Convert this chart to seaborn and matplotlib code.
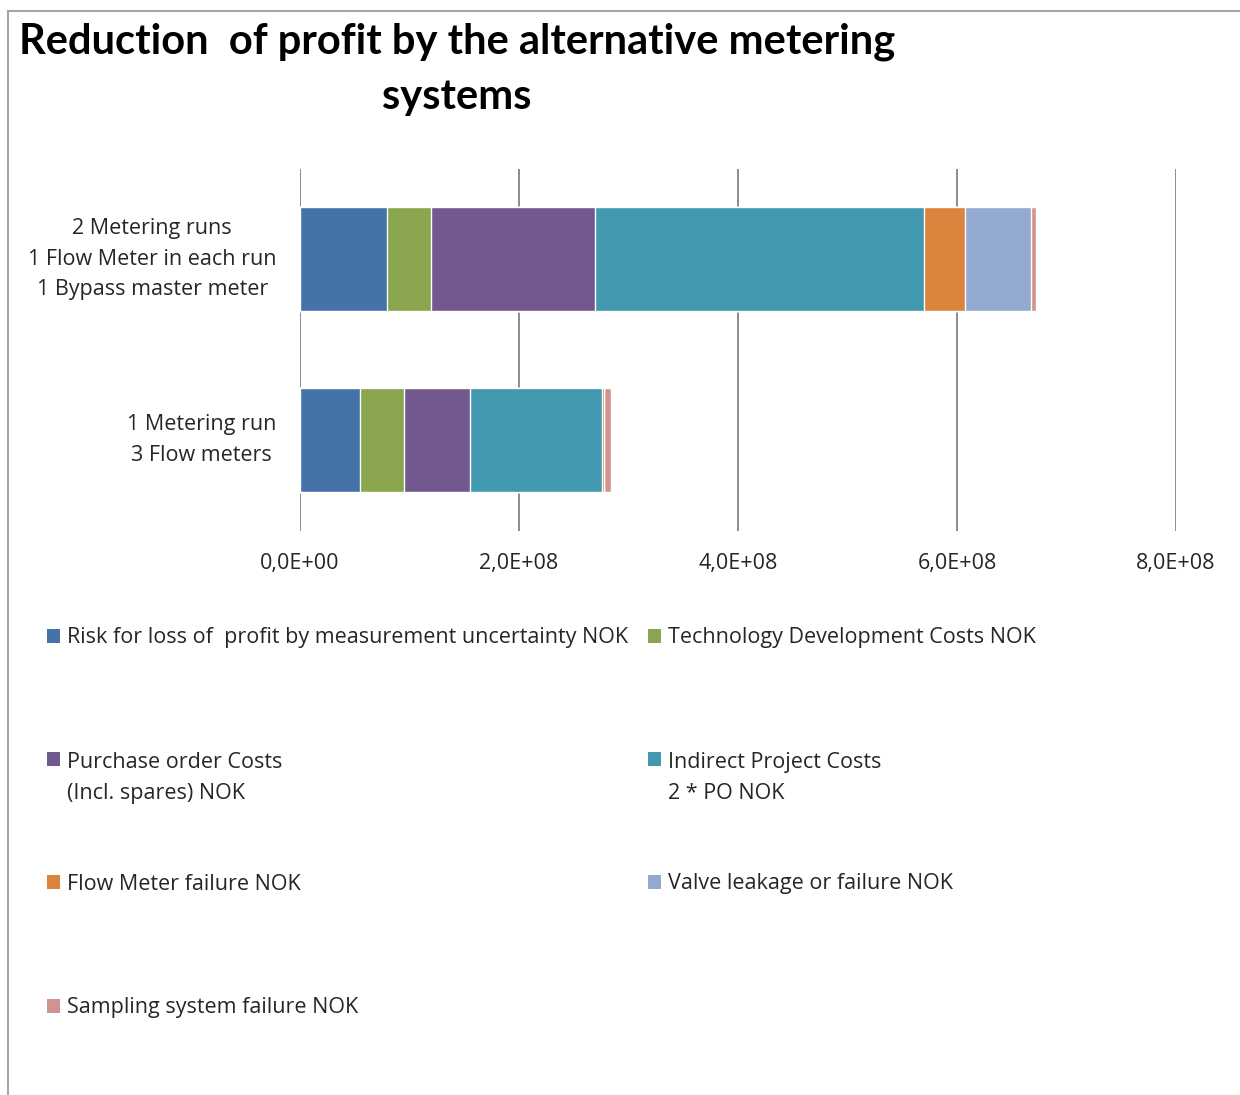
import matplotlib
matplotlib.use("Agg")
import matplotlib.pyplot as plt
from matplotlib.patches import Patch, Rectangle
from matplotlib.ticker import FuncFormatter, FixedLocator
import numpy as np
import pandas as pd
import seaborn as sns

# Metering system alternatives (category axis, top to bottom)
systems = [
    "2 Metering runs\n1 Flow Meter in each run\n1 Bypass master meter",
    "1 Metering run\n3 Flow meters",
]

# Cost components stacked in each bar
series = [
    "Risk for loss of  profit by measurement uncertainty NOK",
    "Technology Development Costs NOK",
    "Purchase order Costs\n(Incl. spares) NOK",
    "Indirect Project Costs\n2 * PO NOK",
    "Flow Meter failure NOK",
    "Valve leakage or failure NOK",
    "Sampling system failure NOK",
]

# Values in NOK for each system
risk = [79.5e6, 54.8e6]
tech = [40.2e6, 40.2e6]
purchase = [150.1e6, 60.3e6]
indirect = [300.2e6, 120.6e6]
flow_fail = [37.4e6, 1.8e6]
valve = [60.6e6, 0.0]
sampling = [4.2e6, 6.4e6]

x_ticks = [0, 2e8, 4e8, 6e8, 8e8]

colors = ["#4572A7", "#89A54E", "#71588F", "#4198AF",
          "#DB843D", "#93A9CF", "#D19392"]

W, H = 1240, 1095
FS = 15.5
sns.set_style("white")
plt.rcParams["font.family"] = ["Open Sans", "DejaVu Sans"]

fig = plt.figure(figsize=(W / 100, H / 100), dpi=100)
ax = fig.add_axes([300 / W, 1 - 530.5 / H, 876 / W, 362 / H])

values = np.array([risk, tech, purchase, indirect, flow_fail, valve, sampling])
cumulative = values.cumsum(axis=0)

# Stacked bars: draw running totals from the longest down to the shortest
for i in range(len(series) - 1, -1, -1):
    df = pd.DataFrame({"system": systems, "total": cumulative[i]})
    sns.barplot(data=df, x="total", y="system", orient="h", color=colors[i],
                saturation=1, width=0.57, errorbar=None, ax=ax, zorder=3)

ax.set_xlim(0, 8e8)
ax.xaxis.set_major_locator(FixedLocator(x_ticks))
ax.xaxis.set_major_formatter(FuncFormatter(lambda v, p: f"{v:.1E}".replace(".", ",")))
ax.set_axisbelow(True)
ax.xaxis.grid(True, color="#8C8C8C", linewidth=1.4)
ax.yaxis.grid(False)
for s in ax.spines.values():
    s.set_visible(False)
ax.set_xlabel("")
ax.set_ylabel("")
ax.tick_params(axis="x", length=0, pad=16, labelsize=FS, labelcolor="#262626")
ax.tick_params(axis="y", length=0, pad=17, labelsize=FS, labelcolor="#262626")
for lbl in ax.get_yticklabels():
    lbl.set_multialignment("center")
    lbl.set_verticalalignment("center")
    lbl.set_linespacing(1.58)

# Title
title_font = dict(ha="center", va="center", fontsize=30, fontweight="bold",
                  family=["Lato", "DejaVu Sans"], color="black")
fig.text(457 / W, 1 - 42 / H, "Reduction  of profit by the alternative metering", **title_font)
fig.text(457 / W, 1 - 97 / H, "systems", **title_font)

# Legend entries laid out in two columns
legend_pos = [(47, 638), (648, 638), (47, 778), (648, 778),
              (47, 884), (648, 884), (47, 1008)]
for name, col, (lx, ly) in zip(series, colors, legend_pos):
    leg = fig.legend(handles=[Patch(facecolor=col, edgecolor="none")], labels=[name],
                     loc="center left", bbox_to_anchor=(lx / W, 1 - ly / H),
                     frameon=False, borderpad=0, borderaxespad=0,
                     handlelength=0.6, handleheight=0.6, handletextpad=0.33,
                     fontsize=FS, labelcolor="#262626")
    for t in leg.get_texts():
        t.set_linespacing(1.6)
    # keep the colour key level with the first line of a wrapped label
    if "\n" in name:
        try:
            for column in leg._legend_handle_box.get_children():
                for item in column.get_children():
                    item.align = "top"
        except AttributeError:
            pass

# Chart area border
fig.add_artist(Rectangle((7.5 / W, -0.05), 2, (H - 10.5) / H + 0.05,
                         transform=fig.transFigure, fill=False,
                         edgecolor="#A6A6A6", linewidth=1.5))

fig.savefig("out.png", dpi=100)
